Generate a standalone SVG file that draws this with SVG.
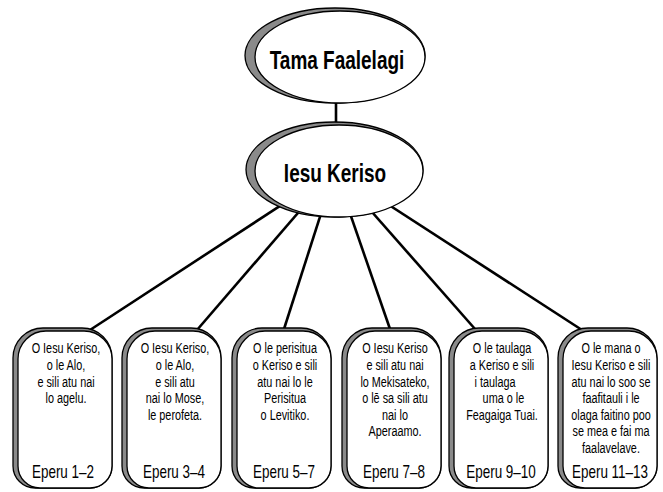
<svg xmlns="http://www.w3.org/2000/svg" xmlns:xlink="http://www.w3.org/1999/xlink" width="663" height="492" viewBox="0 0 663 492">
<style>
.bg{fill:#ffffff}
.rim{fill:#8a8a8a;stroke:#000;stroke-width:1.3}
.face{fill:#ffffff;stroke:#000;stroke-width:1.3}
.conn{stroke:#000;stroke-width:2.6;fill:none;stroke-linecap:butt}
.title{font-family:"Liberation Sans",Arial,sans-serif;font-weight:bold;font-size:26px;fill:#000;text-anchor:middle}
.body{font-family:"Liberation Sans",Arial,sans-serif;font-size:15.5px;fill:#000;text-anchor:middle}
.ref{font-family:"Liberation Sans",Arial,sans-serif;font-size:17.5px;fill:#000;text-anchor:middle}
</style>
<defs>
<path id="boxOuter" d="M0,30 A30,30 0 0 1 30,0 H69 A30,30 0 0 1 99,30 V138 A22,22 0 0 1 77,160 H22 A22,22 0 0 1 0,138 Z"/>
<path id="boxInner" d="M5,31 A28,28 0 0 1 33,3 H71 A28,28 0 0 1 99,31 V138 A22,22 0 0 1 77,160 H27 A22,22 0 0 1 5,138 Z"/>
</defs>
<rect class="bg" x="0" y="0" width="663" height="492"/>
<g id="connectors">
<line class="conn" x1="336" y1="100" x2="336" y2="125"/>
<line class="conn" x1="335" y1="170" x2="90" y2="330"/>
<line class="conn" x1="335" y1="170" x2="197" y2="330"/>
<line class="conn" x1="335" y1="170" x2="284" y2="329"/>
<line class="conn" x1="335" y1="170" x2="390" y2="329"/>
<line class="conn" x1="335" y1="170" x2="475" y2="329"/>
<line class="conn" x1="335" y1="170" x2="582" y2="330"/>
</g>
<g id="tama">
<ellipse class="rim" cx="335" cy="55.5" rx="90" ry="47.5"/>
<ellipse class="face" cx="340" cy="57" rx="85" ry="46"/>
<g transform="translate(337,0) scale(0.73,1)"><text class="title" x="0" y="69">Tama Faalelagi</text></g>
</g>
<g id="iesu">
<ellipse class="rim" cx="334.5" cy="169.5" rx="88.5" ry="47.5"/>
<ellipse class="face" cx="339" cy="171" rx="84" ry="46"/>
<g transform="translate(335,0) scale(0.73,1)"><text class="title" x="0" y="182">Iesu Keriso</text></g>
</g>
<g id="box1" transform="translate(13,328)">
<use xlink:href="#boxOuter" class="rim"/>
<use xlink:href="#boxInner" class="face"/>
<g transform="translate(53,0) scale(0.7,1)">
<text class="body" x="0" y="25.5">O Iesu Keriso,</text>
<text class="body" x="0" y="42.1">o le Alo,</text>
<text class="body" x="0" y="58.7">e sili atu nai</text>
<text class="body" x="0" y="75.3">lo agelu.</text>
</g>
<g transform="translate(50,0) scale(0.77,1)"><text class="ref" x="0" y="150">Eperu 1–2</text></g>
</g>
<g id="box2" transform="translate(122,328)">
<use xlink:href="#boxOuter" class="rim"/>
<use xlink:href="#boxInner" class="face"/>
<g transform="translate(53,0) scale(0.7,1)">
<text class="body" x="0" y="25.5">O Iesu Keriso,</text>
<text class="body" x="0" y="42.1">o le Alo,</text>
<text class="body" x="0" y="58.7">e sili atu</text>
<text class="body" x="0" y="75.3">nai lo Mose,</text>
<text class="body" x="0" y="91.9">le perofeta.</text>
</g>
<g transform="translate(52,0) scale(0.77,1)"><text class="ref" x="0" y="150">Eperu 3–4</text></g>
</g>
<g id="box3" transform="translate(232,328)">
<use xlink:href="#boxOuter" class="rim"/>
<use xlink:href="#boxInner" class="face"/>
<g transform="translate(53,0) scale(0.7,1)">
<text class="body" x="0" y="25.5">O le perisitua</text>
<text class="body" x="0" y="42.1">o Keriso e sili</text>
<text class="body" x="0" y="58.7">atu nai lo le</text>
<text class="body" x="0" y="75.3">Perisitua</text>
<text class="body" x="0" y="91.9">o Levitiko.</text>
</g>
<g transform="translate(52,0) scale(0.77,1)"><text class="ref" x="0" y="150">Eperu 5–7</text></g>
</g>
<g id="box4" transform="translate(342,328)">
<use xlink:href="#boxOuter" class="rim"/>
<use xlink:href="#boxInner" class="face"/>
<g transform="translate(53,0) scale(0.7,1)">
<text class="body" x="0" y="25.5">O Iesu Keriso</text>
<text class="body" x="0" y="42.1">e sili atu nai</text>
<text class="body" x="0" y="58.7">lo Mekisateko,</text>
<text class="body" x="0" y="75.3">o lē sa sili atu</text>
<text class="body" x="0" y="91.9">nai lo</text>
<text class="body" x="0" y="108.5">Aperaamo.</text>
</g>
<g transform="translate(52,0) scale(0.77,1)"><text class="ref" x="0" y="150">Eperu 7–8</text></g>
</g>
<g id="box5" transform="translate(449,328)">
<use xlink:href="#boxOuter" class="rim"/>
<use xlink:href="#boxInner" class="face"/>
<g transform="translate(53,0) scale(0.7,1)">
<text class="body" x="0" y="25.5">O le taulaga</text>
<text class="body" x="0" y="42.1">a Keriso e sili</text>
<text class="body" x="-10" y="58.7">i taulaga</text>
<text class="body" x="2" y="75.3">uma o le</text>
<text class="body" x="0" y="91.9">Feagaiga Tuai.</text>
</g>
<g transform="translate(52,0) scale(0.77,1)"><text class="ref" x="0" y="150">Eperu 9–10</text></g>
</g>
<g id="box6" transform="translate(558,328)">
<use xlink:href="#boxOuter" class="rim"/>
<use xlink:href="#boxInner" class="face"/>
<g transform="translate(53,0) scale(0.7,1)">
<text class="body" x="0" y="25.5">O le mana o</text>
<text class="body" x="0" y="42.1">Iesu Keriso e sili</text>
<text class="body" x="0" y="58.7">atu nai lo soo se</text>
<text class="body" x="0" y="75.3">faafitauli i le</text>
<text class="body" x="0" y="91.9">olaga faitino poo</text>
<text class="body" x="0" y="108.5">se mea e fai ma</text>
<text class="body" x="0" y="125.1">faalavelave.</text>
</g>
<g transform="translate(52,0) scale(0.77,1)"><text class="ref" x="0" y="150">Eperu 11–13</text></g>
</g>
</svg>
